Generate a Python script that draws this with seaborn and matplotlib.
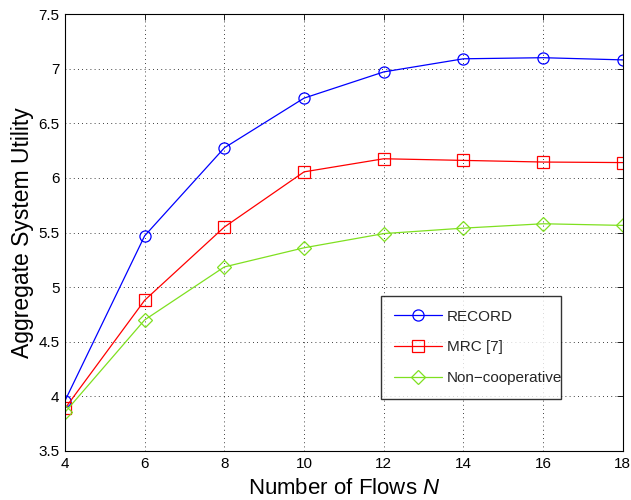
import matplotlib
matplotlib.use("Agg")
import matplotlib.pyplot as plt
import seaborn as sns
import pandas as pd

flows = [4, 6, 8, 10, 12, 14, 16, 18]
record = [3.96, 5.47, 6.275, 6.73, 6.97, 7.09, 7.10, 7.08]
mrc = [3.89, 4.88, 5.55, 6.055, 6.175, 6.16, 6.145, 6.14]
noncoop = [3.855, 4.70, 5.185, 5.36, 5.49, 5.54, 5.58, 5.565]
series_names = ["RECORD", "MRC [7]", "Non\u2212cooperative"]
colors = ["#0000ff", "#ff0000", "#7fe020"]
markers = ["o", "s", "D"]
xticks = [4, 6, 8, 10, 12, 14, 16, 18]
yticks = [3.5, 4, 4.5, 5, 5.5, 6, 6.5, 7, 7.5]
ytick_labels = ["3.5", "4", "4.5", "5", "5.5", "6", "6.5", "7", "7.5"]

sns.set_theme(style="white")
plt.rcParams["font.family"] = ["Liberation Sans", "DejaVu Sans"]
plt.rcParams["mathtext.fontset"] = "custom"
plt.rcParams["mathtext.rm"] = "Liberation Sans"
plt.rcParams["mathtext.it"] = "Liberation Sans:italic"

fig = plt.figure(figsize=(6.31, 5.0), dpi=100)
ax = fig.add_axes([0.103, 0.098, 0.884, 0.874])

df = pd.DataFrame({"N": flows * 3,
                   "val": record + mrc + noncoop,
                   "series": sum([[s] * len(flows) for s in series_names], [])})

for name, c, m in zip(series_names, colors, markers):
    sub = df[df["series"] == name]
    ms = 8 if m != "D" else 7
    sns.lineplot(data=sub, x="N", y="val", ax=ax, color=c, marker=m,
                 markersize=ms, markerfacecolor="none", markeredgecolor=c,
                 markeredgewidth=0.9, linewidth=0.9, label=name)

ax.set_xlim(4, 18)
ax.set_ylim(3.5, 7.5)
ax.set_xticks(xticks)
ax.set_yticks(yticks)
ax.set_yticklabels(ytick_labels)
ax.grid(True, color="black", linestyle=(0, (1, 4)), linewidth=0.6)
ax.tick_params(direction="in", length=4, width=0.6, top=True, right=True,
               labelsize=11, colors="black", pad=4)
for sp in ax.spines.values():
    sp.set_color("black")
    sp.set_linewidth(0.8)
ax.set_xlabel("Number of Flows $\\mathit{N}$", fontsize=16, labelpad=5, color="black")
ax.set_ylabel("Aggregate System Utility", fontsize=16.5, labelpad=3, color="black")

leg = ax.legend(loc="lower left", bbox_to_anchor=(0.566, 0.119, 0.323, 0.231),
                mode="expand", fontsize=11, frameon=True, fancybox=False,
                edgecolor="black", handlelength=3.1, borderpad=0.9,
                labelspacing=1.1, handletextpad=0.35, borderaxespad=0)
leg.get_frame().set_linewidth(1.0)

fig.savefig("out.png", dpi=100)
